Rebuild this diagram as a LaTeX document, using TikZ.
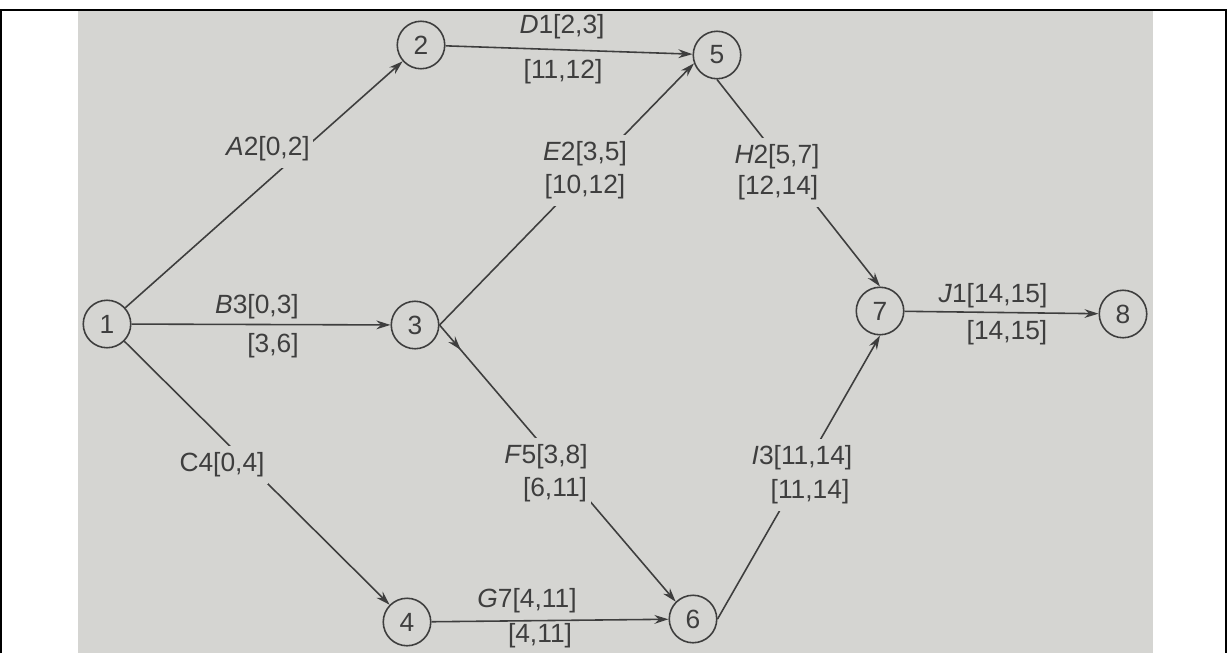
\documentclass[tikz,border=0pt]{standalone}
\usepackage{fontspec}
\setmainfont{Liberation Sans}
\usetikzlibrary{arrows.meta, decorations.markings}
\definecolor{paper}{RGB}{213,213,210}
\definecolor{ink}{RGB}{62,62,62}

\begin{document}
\begin{tikzpicture}[x=0.02cm, y=-0.02cm, >={Stealth[length=8pt,width=5pt]},
    font=\fontsize{15}{18}\selectfont,
    event/.style={circle, draw=ink, line width=0.9pt, minimum size=0.95cm, inner sep=0pt, text=ink},
    tag/.style={text=ink, inner sep=1pt},
    lbl/.style={tag, fill=paper, inner xsep=2pt, inner ysep=4pt},
    link/.style={->, draw=ink, line width=0.9pt},
    midarr/.style={postaction={decorate, decoration={markings, mark=at position 0.09 with {\arrow{>}}}}}]
    \useasboundingbox (0,0) rectangle (1229,653);
    % photo and frame
    \fill[paper] (78,11) rectangle (1153,653);
    \draw[line width=1.1pt] (1,653) -- (1,10) -- (1226,10) -- (1226,653);

    \node[event] (1) at (107,324) {1};
    \node[event] (2) at (421,45) {2};
    \node[event] (3) at (415,325) {3};
    \node[event] (4) at (407,622) {4};
    \node[event] (5) at (717,55) {5};
    \node[event] (6) at (693,619) {6};
    \node[event] (7) at (880,311) {7};
    \node[event] (8) at (1123,314) {8};

    \draw[link] (1) -- (2);
    \draw[link] (1) -- (3);
    \draw[link] (1) -- (4);
    \draw[link] (2) -- (5);
    \draw[link] (3.east) -- (5.200);
    \draw[link, midarr] (3.east) -- (6.north west);
    \draw[link] (4) -- (6);
    \draw[link] (5.south) -- (7.north);
    \draw[link] (6.east) -- (7.south);
    \draw[link] (7) -- (8);

    % activity labels, slanted links are broken by them
    \node[lbl] (a) at (268,149) {\textit{A}2[0,2]};
    \node[lbl] (c) at (222,465) {C4[0,4]};
    \node[lbl] (e) at (585,154) {\textit{E}2[3,5]};
    \node[lbl] (et) at (585,187) {[10,12]};
    \node[lbl] (f) at (546,457) {\textit{F}5[3,8]};
    \node[lbl] (ft) at (555,490) {[6,11]};
    \node[lbl] (h) at (777,157) {\textit{H}2[5,7]};
    \node[lbl] (ht) at (778,188) {[12,14]};
    \node[lbl] (i) at (802,458) {\textit{I}3[11,14]};
    \node[lbl] (it) at (810,492) {[11,14]};
    % labels on the straight links
    \node[tag] (b) at (257,307) {\textit{B}3[0,3]};
    \node[tag] (bt) at (273,346) {[3,6]};
    \node[tag] (d) at (562,27) {\textit{D}1[2,3]};
    \node[tag] (dt) at (563,72) {[11,12]};
    \node[tag] (g) at (527,601) {\textit{G}7[4,11]};
    \node[tag] (gt) at (540,636) {[4,11]};
    \node[tag] (j) at (993,296) {\textit{J}1[14,15]};
    \node[tag] (jt) at (1007,333) {[14,15]};
\end{tikzpicture}
\end{document}
